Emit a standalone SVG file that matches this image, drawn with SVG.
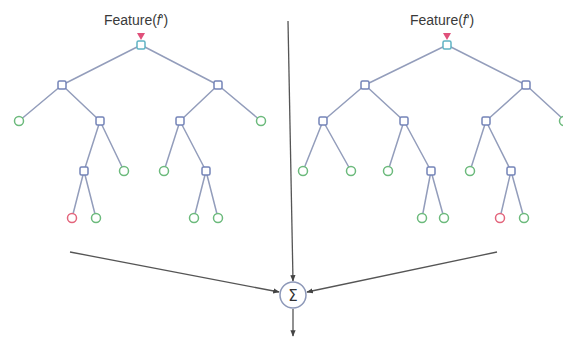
<svg xmlns="http://www.w3.org/2000/svg" width="563" height="338" viewBox="0 0 563 338">
<defs>
<style>
.e{stroke:#939dbb;stroke-width:1.5;fill:none}
.n{fill:#fff;stroke:#7484b8;stroke-width:1.5}
.r{fill:#fff;stroke:#5fb3c4;stroke-width:1.5}
.g{fill:#fff;stroke:#6cba7c;stroke-width:1.5}
.x{fill:#fff;stroke:#e3657c;stroke-width:1.5}
.m{fill:#e0507a}
.a{stroke:#555;stroke-width:1.3;fill:none}
.t{font-family:"Liberation Sans",Arial,sans-serif;font-size:14px;fill:#3a3a3a;text-anchor:middle}
</style>
<marker id="ah" viewBox="0 0 10 10" refX="9" refY="5" markerWidth="5" markerHeight="5" orient="auto">
<path d="M0,1 L10,5 L0,9 z" fill="#444"/>
</marker>
</defs>
<rect width="563" height="338" fill="#fff"/>
<g id="connectors">
<g id="tree1-edges">
<path class="e" d="M141,45L62,85M141,45L218,85M62,85L19,121M62,85L100,121M100,121L84,171M100,121L124,171M84,171L72,218M84,171L96,218M218,85L180,121M218,85L261,121M180,121L164,171M180,121L206,171M206,171L194,218M206,171L218,218"/>
</g>
<g id="tree2-edges">
<path class="e" d="M447,45L365,85M447,45L526,85M365,85L323,121M365,85L404,121M323,121L303,171M323,121L351,171M404,121L388,171M404,121L431,171M431,171L422,218M431,171L444,218M526,85L486,121M526,85L563,119M486,121L470,171M486,121L511,171M511,171L500,218M511,171L524,218"/>
</g>
<line class="a" x1="70" y1="252" x2="279" y2="292" marker-end="url(#ah)"/>
<line class="a" x1="497" y1="252" x2="307" y2="292" marker-end="url(#ah)"/>
<line class="a" x1="288" y1="21" x2="293" y2="281" marker-end="url(#ah)"/>
<line class="a" x1="293" y1="309" x2="293" y2="336" marker-end="url(#ah)"/>
</g>
<g id="tree1">
<text class="t" x="136" y="25">Feature(<tspan font-style="italic">f</tspan>')</text>
<path class="m" d="M137,33L145,33L141,40z"/>
<rect id="t1-root" class="r" x="137" y="41" width="8" height="8" rx="1.5"/>
<rect class="n" x="58" y="81" width="8" height="8" rx="1.5"/>
<rect class="n" x="214" y="81" width="8" height="8" rx="1.5"/>
<circle class="g" cx="19" cy="121" r="4.5"/>
<rect class="n" x="96" y="117" width="8" height="8" rx="1.5"/>
<rect class="n" x="176" y="117" width="8" height="8" rx="1.5"/>
<circle class="g" cx="261" cy="121" r="4.5"/>
<rect class="n" x="80" y="167" width="8" height="8" rx="1.5"/>
<circle class="g" cx="124" cy="171" r="4.5"/>
<circle class="g" cx="164" cy="171" r="4.5"/>
<rect class="n" x="202" y="167" width="8" height="8" rx="1.5"/>
<circle class="x" cx="72" cy="218" r="4.5"/>
<circle class="g" cx="96" cy="218" r="4.5"/>
<circle class="g" cx="194" cy="218" r="4.5"/>
<circle class="g" cx="218" cy="218" r="4.5"/>
</g>
<g id="tree2">
<text class="t" x="442" y="25">Feature(<tspan font-style="italic">f</tspan>')</text>
<path class="m" d="M443,33L451,33L447,40z"/>
<rect class="r" x="443" y="41" width="8" height="8" rx="1.5"/>
<rect class="n" x="361" y="81" width="8" height="8" rx="1.5"/>
<rect class="n" x="522" y="81" width="8" height="8" rx="1.5"/>
<rect class="n" x="319" y="117" width="8" height="8" rx="1.5"/>
<rect class="n" x="400" y="117" width="8" height="8" rx="1.5"/>
<rect class="n" x="482" y="117" width="8" height="8" rx="1.5"/>
<circle class="g" cx="564" cy="121" r="4.5"/>
<circle class="g" cx="303" cy="171" r="4.5"/>
<circle class="g" cx="351" cy="171" r="4.5"/>
<circle class="g" cx="388" cy="171" r="4.5"/>
<rect class="n" x="427" y="167" width="8" height="8" rx="1.5"/>
<circle class="g" cx="470" cy="171" r="4.5"/>
<rect class="n" x="507" y="167" width="8" height="8" rx="1.5"/>
<circle class="g" cx="422" cy="218" r="4.5"/>
<circle class="g" cx="444" cy="218" r="4.5"/>
<circle class="x" cx="500" cy="218" r="4.5"/>
<circle class="g" cx="524" cy="218" r="4.5"/>
</g>
<g id="sum">
<circle cx="293" cy="295" r="13" fill="#fff" stroke="#8d98b8" stroke-width="1.5"/>
<text x="293" y="300.5" font-family="'DejaVu Sans',sans-serif" font-size="15" fill="#333" text-anchor="middle">Σ</text>
</g>
</svg>
